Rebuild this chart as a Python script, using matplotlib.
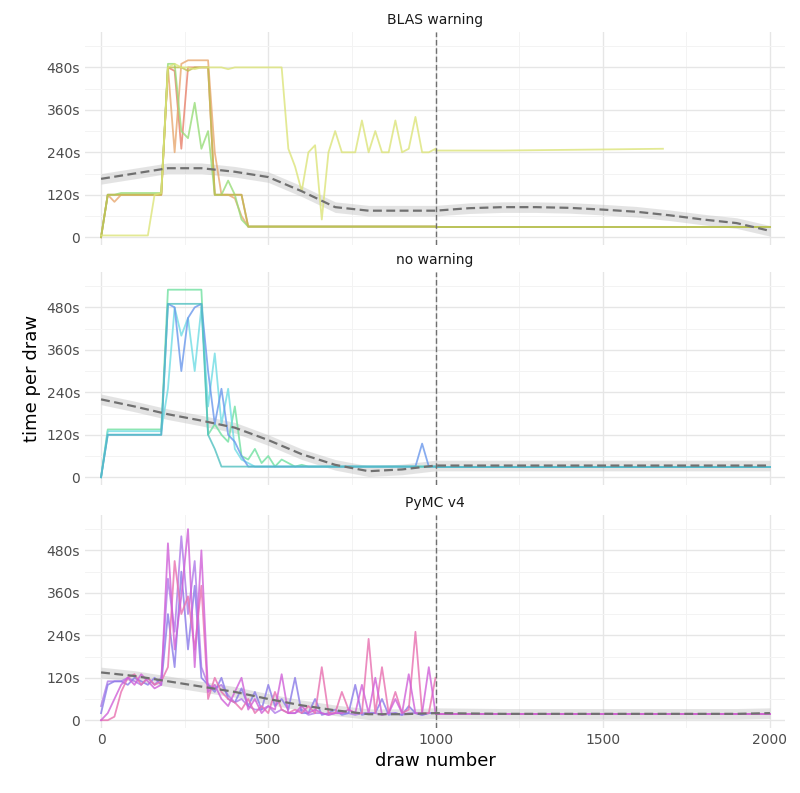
import numpy as np
import matplotlib
matplotlib.use("Agg")
import matplotlib.pyplot as plt

x_early = list(range(0, 1001, 20))
x_smooth = list(range(0, 2001, 100))

# Panel 1: BLAS warning
p1_red = [0,120,120,120,120,120,120,120,120,120, 480,470,250,480,480,480,480, 120,120,120,120,120] + [30]*29
p1_orange = [0,120,100,120,120,120,120,120,120,120, 480,240,490,500,500,500,500, 240,120,120,110,60] + [30]*29
p1_green = [0,120,120,125,125,125,125,125,125,125, 490,490,300,280,380,250,300, 120,120,160,120,50] + [30]*29
p1_yellow = [5,5,5,5,5,5,5,5,120,125, 480,490,480,480,475,480,480,
             480,480,475,480,480,480,480,480,480,480, 480,250,200,130,240,
             260,50,240,300,240,240,240, 330,240, 300,240,240,
             330,240,250,340,240,240,250]
p1_olive = [0,120,120,120,120,120,120,120,120,120, 480,480,480,470,480,480,480, 120,120,120,120,120] + [30]*29
p1_yellow_late_x = [1000, 1200, 1500, 1680]
p1_yellow_late = [245, 245, 248, 250]
p1_late_x = [1000, 2000]
p1_late = [30, 30]
p1_smooth = [165,180,195,195,185,170,130,85,75,75,75,82,85,85,83,78,72,62,50,40,18]

# Panel 2: no warning
p2_teal = [0,120,120,120,120,120,120,120,120,120, 490,490,490,490,490,490,120, 80,30,30] + [30]*31
p2_blue = [0,120,120,120,120,120,120,120,120,120, 490,480,300,450,480,490,300,
           150,250,120,100,60,30] + [30]*25 + [95,30,30]
p2_cyan = [0,130,130,130,130,130,130,130,130,130, 250,480,400,450,300,480,200,
           350,150,250,80,50,40] + [30]*28
p2_green = [0,135,135,135,135,135,135,135,135,135, 530,530,530,530,530,530,120,
            150,120,100,200,60,50,80,40,60,30,50,40,30,35] + [30]*20
p2_late_x = [1000, 2000]
p2_late = [30, 30]
p2_smooth = [220,200,178,160,140,105,65,35,17,22,33,33,33,33,33,33,33,33,33,33,33]

# Panel 3: PyMC v4
p3_purple = [20,100,110,110,100,120,110,100,120,100, 300,150,420,200,380,120,100,
             80,120,60,50,90,40,80,30,100,40,60,30,120,20,20,60,15,20,30,15,
             20,100,15,20,20,60,15,20,15,40,20,15,20,20]
p3_magenta = [0,20,60,100,120,100,130,110,90,100, 500,200,350,540,150,480,80,
              100,60,40,80,120,30,60,20,40,30,130,20,20,40,20,30,20,15,20,20,
              30,20,100,20,120,15,20,60,20,130,20,20,150,20]
p3_pink = [0,0,10,80,120,130,100,120,100,110, 150,450,300,350,200,380,60,
           120,80,60,50,30,60,20,40,20,80,30,20,30,20,40,20,150,20,20,80,
           30,20,20,230,20,150,20,80,20,30,250,20,20,120]
p3_violet = [40,110,110,110,120,110,100,120,100,120, 400,250,520,300,450,150,100,
             90,100,70,50,60,40,30,30,40,20,30,20,20,30,15,20,20,15,20,20,
             20,15,20,20,20,15,20,20,15,20,20,15,20,20]
p3_late_x = [1000, 2000]
p3_late = [18, 18]
p3_smooth = [135,125,110,95,80,60,42,28,17,17,20,19,18,18,18,18,18,18,18,18,20]

titles = ["BLAS warning", "no warning", "PyMC v4"]
panels = [
    [(p1_red, "#e8806a", p1_late_x, p1_late), (p1_orange, "#e8a870", p1_late_x, p1_late),
     (p1_green, "#98dc78", p1_late_x, p1_late), (p1_olive, "#c0c050", p1_late_x, p1_late),
     (p1_yellow, "#dce47a", p1_yellow_late_x, p1_yellow_late)],
    [(p2_green, "#70e0a0", p2_late_x, p2_late), (p2_cyan, "#70dce4", p2_late_x, p2_late),
     (p2_blue, "#6a98ec", p2_late_x, p2_late), (p2_teal, "#50c0c0", p2_late_x, p2_late)],
    [(p3_violet, "#b07ae8", p3_late_x, p3_late), (p3_purple, "#8a7ae8", p3_late_x, p3_late),
     (p3_pink, "#e870b0", p3_late_x, p3_late), (p3_magenta, "#d060d8", p3_late_x, p3_late)],
]
smooths = [p1_smooth, p2_smooth, p3_smooth]
bottoms = [1-245/793, 1-485/793, 1-728/793]
h = 213/793

fig = plt.figure(figsize=(8, 7.93), dpi=100)
for k in range(3):
    ax = fig.add_axes([85/800, bottoms[k], 700/800, h])
    for s in ax.spines.values():
        s.set_visible(False)
    ax.set_xlim(-48, 2045)
    ax.set_ylim(-22, 580)
    ax.set_yticks([0,120,240,360,480])
    ax.set_yticklabels(["0","120s","240s","360s","480s"])
    ax.set_yticks([60,180,300,420,540], minor=True)
    ax.set_xticks([0,500,1000,1500,2000])
    ax.set_xticks([250,750,1250,1750], minor=True)
    ax.grid(True, which="major", color="#e6e6e6", lw=1.0)
    ax.grid(True, which="minor", color="#f3f3f3", lw=0.7)
    ax.set_axisbelow(True)
    ax.tick_params(length=0, labelsize=10, colors="#4d4d4d", which="both")
    if k < 2:
        ax.set_xticklabels([])
    for ys, c, lx, ly in panels[k]:
        ax.plot(x_early, ys, color=c, lw=1.3, alpha=0.8)
        ax.plot(lx, ly, color=c, lw=1.3, alpha=0.8)
    sm = np.array(smooths[k], float)
    ax.fill_between(x_smooth, sm-15, sm+15, color="#bbbbbb", alpha=0.4, lw=0)
    ax.plot(x_smooth, sm, color="#707070", lw=1.6, ls=(0, (4, 2)))
    ax.axvline(1000, color="#707070", lw=1, ls=(0, (4, 2)))
    ax.set_title(titles[k], fontsize=10, color="#1a1a1a", pad=6)
    if k == 1:
        ax.set_ylabel("time per draw", fontsize=13)
    if k == 2:
        ax.set_xlabel("draw number", fontsize=13)
fig.savefig("out.png", dpi=100, facecolor="white")
